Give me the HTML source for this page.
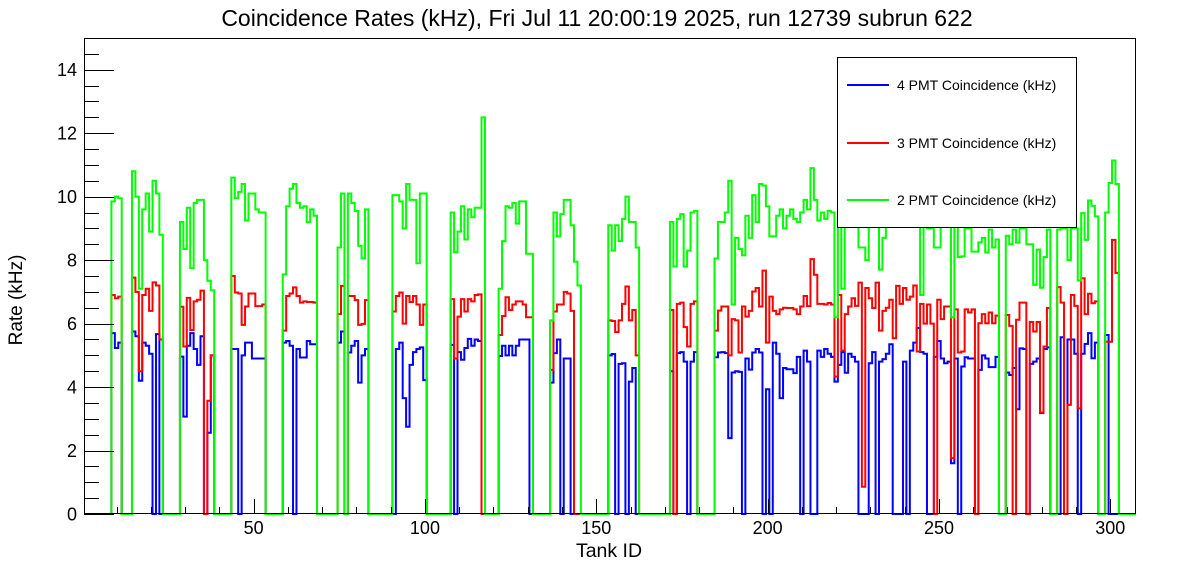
<!DOCTYPE html>
<html><head><meta charset="utf-8"><style>
html,body{margin:0;padding:0;background:#fff;}
svg{display:block;font-family:"Liberation Sans",sans-serif;}
</style></head><body>
<svg id="chart" width="1196" height="572" viewBox="0 0 1196 572" xmlns="http://www.w3.org/2000/svg">
<rect x="0" y="0" width="1196" height="572" fill="#fff"/>
<text x="597" y="26" font-size="23" text-anchor="middle" fill="#000">Coincidence Rates (kHz), Fri Jul 11 20:00:19 2025, run 12739 subrun 622</text>
<text x="0" y="0" font-size="19" text-anchor="middle" transform="translate(22,300) rotate(-90)" fill="#000">Rate (kHz)</text>
<text x="609" y="557" font-size="19.5" text-anchor="middle" fill="#000">Tank ID</text>
<g id="series"></g>
<g id="axes"></g>
<g>
<rect x="837.5" y="57.5" width="239" height="170" fill="#fff" stroke="#000" stroke-width="1"/>
<line x1="847" y1="85" x2="889" y2="85" stroke="#0000ff" stroke-width="2"/>
<text x="897" y="90" font-size="14" fill="#000">4 PMT Coincidence (kHz)</text>
<line x1="847" y1="143" x2="889" y2="143" stroke="#ff0000" stroke-width="2"/>
<text x="897" y="148" font-size="14" fill="#000">3 PMT Coincidence (kHz)</text>
<line x1="847" y1="200" x2="889" y2="200" stroke="#00ff00" stroke-width="2"/>
<text x="897" y="205" font-size="14" fill="#000">2 PMT Coincidence (kHz)</text>
</g>
</svg>
<script>
// Data: [startBin, values...] segments per series (bins outside segments are 0)
const nBins = 307;
const yTicks = [0,2,4,6,8,10,12,14];
const xTicks = [50,100,150,200,250,300];
const greenSegs = [
[9,9.85,10.0,9.95],
[15,10.8,10.0,7.1,9.6,10.1,8.9,10.5,10.1,8.8],
[29,9.2,8.35,9.65,7.75,9.8,9.9,9.9,8.0,7.35,7.05],
[44,10.6,9.95,10.15,10.4,9.25,10.1,10.1,9.6,9.5,9.5],
[59,7.55,9.7,10.25,10.4,9.8,9.65,9.7,9.2,9.6,9.4],
[75,8.4,10.1,0,10.1,9.8,9.55,8.45,8.05,9.6],
[91,10.05,10.05,9.85,9.0,10.4,9.9,9.9,7.9,10.1,10.1],
[108,9.5,8.25,8.9,9.7,8.65,9.6,9.35,9.65,9.65,12.5],
[122,7.1,8.6,9.7,9.65,9.8,9.15,9.85,9.85,8.2,8.2],
[137,6.1,9.5,8.75,9.45,9.9,9.9,9.1,7.95,7.2],
[154,9.1,8.3,9.1,8.6,9.3,10.0,9.2,9.2,8.4],
[172,9.2,7.8,9.3,9.45,7.8,8.3,9.5,9.55],
[185,8.05,9.2,9.2,9.5,10.5,6.6,8.7,8.35,8.15,9.4,8.7,10.05,9.2,10.4,10.35,9.7,8.75,8.75,9.4,9.6,9.0,9.4,
 9.6,9.3,9.2,9.5,9.9,9.6,10.9,9.9,9.25,9.5,9.3,9.55,9.5,6.2,9.5,7.1,9.4,9.4,9.3,9.3,8.4,8.4,8.0,9.3,9.3,9.3,7.7,8.7,
 9.3,9.4,9.4,9.3,9.4,9.5,9.3,9.4,9.3,9.2,6.9,9.3,9.0,9.0,8.4,8.4,9.2,9.3,9.3,6.2,9.2,8.1,
 8.12,9.0,9.0,8.27,8.27,8.56,8.7,8.24,8.96,8.4,8.65,0,0,8.77,8.5,8.96,8.55,9.0,9.0,8.5,8.5,7.22,8.33,7.13,8.1,8.96,0,0,
 8.96,9.0,9.0,8.0,9.0,9.0,7.36,9.48,8.64,9.88,9.71,9.38,0,0,9.5,10.43,11.14,10.4]
];
const redSegs = [
[9,6.9,6.8,6.85],
[15,7.45,7.0,4.5,6.9,7.1,6.4,7.3,7.2,5.5],
[29,6.53,5.28,6.81,5.8,6.7,6.75,7.04,0,3.57,5.0],
[44,7.5,6.98,6.95,5.96,6.54,6.95,6.95,6.55,6.55,6.6],
[59,5.78,6.87,6.95,7.14,6.87,6.66,6.7,6.68,6.68,6.66],
[75,6.3,7.19,0,6.87,6.87,6.74,5.96,5.99,6.74],
[91,6.38,6.87,6.98,6.0,6.87,6.68,6.87,6.6,5.96,6.6],
[108,6.77,4.9,6.22,6.77,6.38,6.77,6.7,6.9,6.92],
[122,5.64,6.24,6.83,6.43,6.6,6.7,6.7,6.6,6.2,6.2],
[137,4.54,6.38,6.6,6.6,7.0,6.95,6.4],
[154,6.1,6.08,5.73,6.1,6.62,7.17,6.1,6.43,5.0],
[172,6.43,0,6.62,6.66,5.89,5.28,6.62,6.7],
[185,5.78,6.41,6.54,6.54,5.0,6.14,6.1,5.09,6.54,6.22,6.4,7.01,7.12,6.54,7.67,5.4,6.85,6.4,6.3,6.45,6.5,6.49,
 6.49,6.45,6.3,6.54,6.87,6.55,8.03,7.54,6.62,6.62,6.6,6.65,6.6,4.33,6.9,5.15,6.3,6.54,6.8,6.56,7.29,0.86,7.12,6.8,6.49,7.29,
 5.78,6.4,6.5,6.75,5.54,7.19,6.62,7.12,6.75,6.85,7.2,5.12,6.62,6.0,6.6,6.0,0,6.75,6.14,6.54,6.54,1.76,6.45,5.09,
 5.12,6.45,6.35,6.45,0,6.01,6.3,6.01,6.35,6.01,6.25,0,0,6.27,5.93,0,6.12,6.66,6.66,0,6.05,5.75,6.05,3.2,5.28,6.49,0,0,
 7.15,6.66,0,3.44,6.9,6.56,3.33,7.43,6.3,6.94,6.64,6.7,0,0,5.43,5.43,8.64,7.6]
];
const blueSegs = [
[9,5.7,5.23,5.4],
[15,5.75,5.6,4.2,5.4,5.3,5.05,0,5.67],
[29,4.96,3.07,5.3,5.7,5.2,4.7,5.6,0,2.56,5.0],
[44,5.2,5.2,0,5.0,5.4,5.4,4.9,4.9,4.9,4.9],
[59,5.4,5.45,5.3,0,5.2,4.93,4.93,5.45,5.35,5.35],
[75,5.4,5.75,0,5.09,5.3,5.45,4.14,5.0,5.2],
[92,5.2,5.4,3.65,2.75,4.7,5.1,5.2,5.25,4.22],
[108,5.33,0,5.1,4.86,5.23,5.52,5.3,5.5,5.45],
[122,4.98,5.3,5.0,5.3,5.0,5.3,5.5,5.5,5.5],
[137,4.14,5.07,5.5,0,4.9,4.9],
[154,5.0,5.04,0,4.73,4.75,0,4.17,4.6],
[172,4.5,0,5.07,5.1,4.8,0,4.8,5.1],
[185,4.94,5.09,5.1,5.07,2.39,4.46,4.5,4.48,0,4.9,4.55,5.09,5.2,5.09,0,3.93,0,5.4,5.05,3.65,4.6,4.56,
 4.56,4.44,4.95,0,5.15,4.8,0,0,5.15,4.95,5.2,5.05,4.95,4.17,4.7,5.1,4.45,5.05,4.95,4.8,0,0,0,4.75,5.1,0,
 4.8,4.88,5.05,5.35,0,0,0,4.8,0,5.15,5.4,5.86,5.1,5.05,0,0,4.95,5.45,4.9,4.75,4.8,1.6,4.9,0,
 4.65,4.94,4.9,4.9,0,4.54,5.0,4.9,4.63,4.63,4.95,0,0,4.46,4.38,4.6,3.3,5.22,5.2,0,4.73,4.8,4.9,3.18,5.2,5.25,0,0,
 0,5.57,0,5.5,5.5,5.05,0,5.05,5.36,5.7,4.91,5.4,0,0,5.64]
];

const X0 = 84, X1 = 1136, Y0 = 514, Y1 = 38;
const xMin = 0.5, xMax = 307.5, yMin = 0, yMax = 15;
function xs(v){ return X0 + (v - xMin) / (xMax - xMin) * (X1 - X0); }
function ys(v){ return Y0 - (v - yMin) / (yMax - yMin) * (Y0 - Y1); }
function expand(segs){
  const arr = new Array(nBins + 1).fill(0);
  segs.forEach(s => { for (let k = 1; k < s.length; k++) { const b = s[0] + k - 1; if (b <= nBins) arr[b] = s[k]; } });
  return arr;
}
const NS = "http://www.w3.org/2000/svg";
const gSeries = document.getElementById('series');
function drawHist(segs, color, name){
  const arr = expand(segs);
  let d = "M" + xs(xMin).toFixed(2) + "," + ys(0).toFixed(2);
  for (let b = 1; b <= nBins; b++) {
    const y = ys(arr[b]).toFixed(2);
    d += " L" + xs(b - 0.5).toFixed(2) + "," + y + " L" + xs(b + 0.5).toFixed(2) + "," + y;
  }
  d += " L" + xs(xMax).toFixed(2) + "," + ys(0).toFixed(2);
  const p = document.createElementNS(NS, 'path');
  p.setAttribute('d', d);
  p.setAttribute('fill', 'none');
  p.setAttribute('stroke', color);
  p.setAttribute('stroke-width', '2');
  
  
  gSeries.appendChild(p);
}
drawHist(blueSegs, '#0000ff', 'series-4pmt');
drawHist(redSegs, '#ff0000', 'series-3pmt');
drawHist(greenSegs, '#00ff00', 'series-2pmt');

const gAxes = document.getElementById('axes');
function mk(tag, attrs){ const e = document.createElementNS(NS, tag); for (const k in attrs) e.setAttribute(k, attrs[k]); gAxes.appendChild(e); return e; }
const frame = mk('rect', {x: X0 + 0.5, y: Y1 + 0.5, width: X1 - X0 - 1, height: Y0 - Y1 - 1, fill: 'none', stroke: '#000', 'stroke-width': 1});


for (let v = 0; v <= 15.001; v += 0.5) {
  const major = Math.abs(v / 2 - Math.round(v / 2)) < 1e-6;
  const t = mk('line', {x1: X0, x2: X0 + (major ? 30 : 15), y1: Math.round(ys(v)) + 0.5, y2: Math.round(ys(v)) + 0.5, stroke: '#000', 'stroke-width': 1});
  
  
}
yTicks.forEach(v => {
  const t = mk('text', {x: 77, y: ys(v) + 6.5, 'font-size': 18, 'text-anchor': 'end', fill: '#000'});
  t.textContent = String(v);
  
  
});
for (let v = 10; v <= 300; v += 10) {
  const major = v % 50 === 0;
  const x = Math.round(xs(v)) + 0.5;
  const t = mk('line', {x1: x, x2: x, y1: Y0, y2: Y0 - (major ? 15 : 7), stroke: '#000', 'stroke-width': 1});
  
  
}
xTicks.forEach(v => {
  const t = mk('text', {x: xs(v), y: 534, 'font-size': 18, 'text-anchor': 'middle', fill: '#000'});
  t.textContent = String(v);
  
  
});
</script>
</body></html>
